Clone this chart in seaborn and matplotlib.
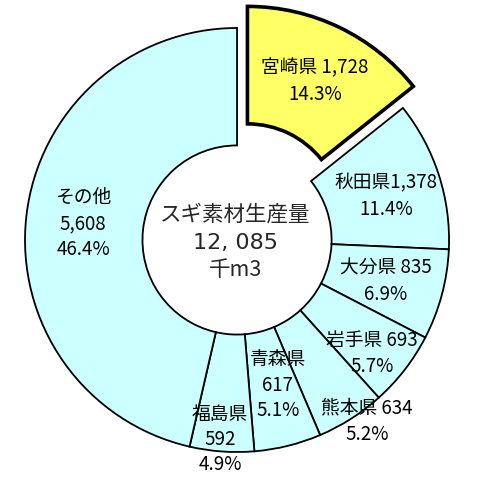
import matplotlib
matplotlib.use("Agg")
import matplotlib.pyplot as plt
import seaborn as sns

# データ（千m3）
names = ['宮崎県', '秋田県', '大分県', '岩手県', '熊本県', '青森県', '福島県', 'その他']
values = [1728, 1378, 835, 693, 634, 617, 592, 5608]
pcts = ['14.3%', '11.4%', '6.9%', '5.7%', '5.2%', '5.1%', '4.9%', '46.4%']
total_label = '12, 085'

sns.set_theme(style='white')
plt.rcParams['font.family'] = ['Noto Sans CJK JP', 'DejaVu Sans']

colors = ['#FFFF66'] + ['#CCFFFF'] * 7
explode = [0.113] + [0] * 7

# ラベルの行構成と位置（データ座標、1行目の中心）
label_lines = [
    ['{n} {v}', '{p}'],
    ['{n}{v}', '{p}'],
    ['{n} {v}', '{p}'],
    ['{n} {v}', '{p}'],
    ['{n} {v}', '{p}'],
    ['{n}', '{v}', '{p}'],
    ['{n}', '{v}', '{p}'],
    ['{n}', '{v}', '{p}'],
]
label_pos = [
    (0.368, 0.811), (0.703, 0.269), (0.703, -0.132), (0.637, -0.472),
    (0.613, -0.792), (0.193, -0.566), (-0.080, -0.825), (-0.726, 0.203),
]
line_steps = [0.127, 0.127, 0.127, 0.127, 0.127, 0.118, 0.118, 0.125]

fig = plt.figure(figsize=(4.8, 4.8), dpi=100)
ax = fig.add_axes([0, 0, 1, 1])

wedges, _ = ax.pie(
    values, startangle=90, counterclock=False, explode=explode,
    colors=colors, radius=1,
    wedgeprops=dict(width=0.554, edgecolor='black', linewidth=1.3),
)
wedges[0].set_linewidth(2.6)

for i, name in enumerate(names):
    x, y = label_pos[i]
    for j, tmpl in enumerate(label_lines[i]):
        txt = tmpl.format(n=name, v=f'{values[i]:,}', p=pcts[i])
        ax.text(x, y - j * line_steps[i], txt, ha='center', va='center',
                fontsize=13.5, color='black')

# 中央のテキスト
ax.text(-0.009, 0.118, 'スギ素材生産量', ha='center', va='center', fontsize=15.5)
ax.text(-0.009, -0.014, total_label, ha='center', va='center', fontsize=16,
        family=['DejaVu Sans'])
ax.text(-0.009, -0.142, '千m3', ha='center', va='center', fontsize=15.5)

ax.set_xlim(-1.118, 1.146)
ax.set_ylim(-1.132, 1.132)
ax.set_aspect('equal')
ax.axis('off')

fig.savefig('out.png', dpi=100, facecolor='white')
